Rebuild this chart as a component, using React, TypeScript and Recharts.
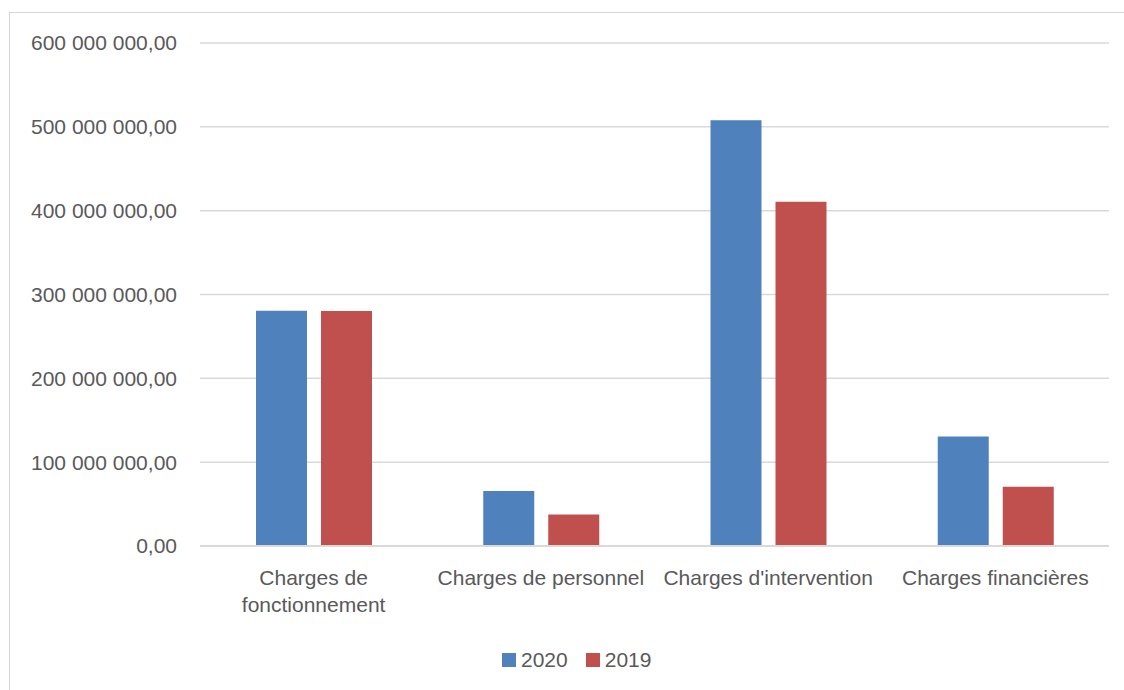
import React from "react";
import { BarChart, Bar, XAxis, YAxis, CartesianGrid, Legend } from "recharts";

const categories = [
  "Charges de fonctionnement",
  "Charges de personnel",
  "Charges d'intervention",
  "Charges financières",
];
const values2020 = [280600000, 65500000, 508000000, 130700000];
const values2019 = [280400000, 37700000, 410600000, 70800000];
const yTicks = [0, 100000000, 200000000, 300000000, 400000000, 500000000, 600000000];
const seriesNames = ["2020", "2019"];

const data = categories.map((c, i) => ({
  category: c,
  v2020: values2020[i],
  v2019: values2019[i],
}));

const FONT = "'Liberation Sans', Arial, sans-serif";
const TEXT_COLOR = "#595959";
const FONT_SIZE = 21;

const formatFr = (v: number) => {
  const [intPart, dec] = Number(v).toFixed(2).split(".");
  return intPart.replace(/\B(?=(\d{3})+(?!\d))/g, " ") + "," + dec;
};

let ctx: CanvasRenderingContext2D | null = null;
const measure = (s: string) => {
  if (!ctx && typeof document !== "undefined") {
    ctx = document.createElement("canvas").getContext("2d");
  }
  if (!ctx) return s.length * FONT_SIZE * 0.5;
  ctx.font = `${FONT_SIZE}px ${FONT}`;
  return ctx.measureText(s).width;
};

const wrapLabel = (text: string, maxWidth: number) => {
  const words = text.split(" ");
  const lines: string[] = [];
  let cur = "";
  words.forEach((w) => {
    const next = cur ? cur + " " + w : w;
    if (cur && measure(next) > maxWidth) {
      lines.push(cur);
      cur = w;
    } else {
      cur = next;
    }
  });
  if (cur) lines.push(cur);
  return lines;
};

const XTick = (props: any) => {
  const { x, y, payload } = props;
  const lines = wrapLabel(String(payload.value), 225);
  return (
    <text
      x={x}
      y={y}
      textAnchor="middle"
      fill={TEXT_COLOR}
      style={{ fontSize: FONT_SIZE, fontFamily: FONT }}
    >
      {lines.map((l, i) => (
        <tspan key={i} x={x} dy={i === 0 ? "0.71em" : 27}>
          {l}
        </tspan>
      ))}
    </text>
  );
};

const renderLegend = (props: any) => {
  const payload = [...(props.payload || [])].sort(
    (a: any, b: any) => seriesNames.indexOf(String(a.value)) - seriesNames.indexOf(String(b.value))
  );
  return (
    <div
      style={{
        display: "flex",
        alignItems: "center",
        fontFamily: FONT,
        fontSize: FONT_SIZE,
        color: TEXT_COLOR,
        height: 24,
        whiteSpace: "nowrap",
      }}
    >
      {payload.map((e: any, i: number) => (
        <span
          key={i}
          style={{ display: "flex", alignItems: "center", marginRight: i === 0 ? 18 : 0 }}
        >
          <span
            style={{
              display: "inline-block",
              width: 14,
              height: 14,
              background: e.color,
              marginRight: 5,
            }}
          />
          <span>{e.value}</span>
        </span>
      ))}
    </div>
  );
};

export default function App() {
  return (
    <div
      style={{
        position: "fixed",
        left: 0,
        top: 0,
        width: 1124,
        height: 690,
        overflow: "hidden",
        background: "#fff",
      }}
    >
      <style>{"html,body{overflow:hidden;}"}</style>
      <div style={{ position: "absolute", left: 9, top: 12, width: 1115, height: 1, background: "#d6d6d6" }} />
      <div style={{ position: "absolute", left: 9, top: 12, width: 1, height: 678, background: "#d6d6d6" }} />
      <div style={{ position: "absolute", left: 0, top: 0 }}>
        <BarChart
          width={1124}
          height={690}
          data={data}
          margin={{ top: 43, right: 15, bottom: 44, left: 0 }}
          barGap={14}
        >
          <CartesianGrid vertical={false} stroke="#d9d9d9" strokeWidth={1.5} />
          <XAxis
            dataKey="category"
            height={100}
            tickLine={false}
            tickSize={0}
            tickMargin={24}
            axisLine={{ stroke: "#d9d9d9", strokeWidth: 2 }}
            tick={(p: any) => <XTick {...p} />}
            interval={0}
          />
          <YAxis
            width={200}
            domain={[0, 600000000]}
            ticks={yTicks}
            tickFormatter={formatFr}
            axisLine={false}
            tickLine={false}
            tickSize={0}
            tickMargin={23}
            tick={{ fill: TEXT_COLOR, fontSize: FONT_SIZE, fontFamily: FONT }}
          />
          <Legend
            layout="horizontal"
            verticalAlign="middle"
            align="center"
            content={renderLegend}
            wrapperStyle={{ left: 502, top: 648, width: "auto", height: 24 }}
          />
          <Bar dataKey="v2020" name={seriesNames[0]} fill="#4f81bd" barSize={51} isAnimationActive={false} />
          <Bar dataKey="v2019" name={seriesNames[1]} fill="#c0504d" barSize={51} isAnimationActive={false} />
        </BarChart>
      </div>
    </div>
  );
}
